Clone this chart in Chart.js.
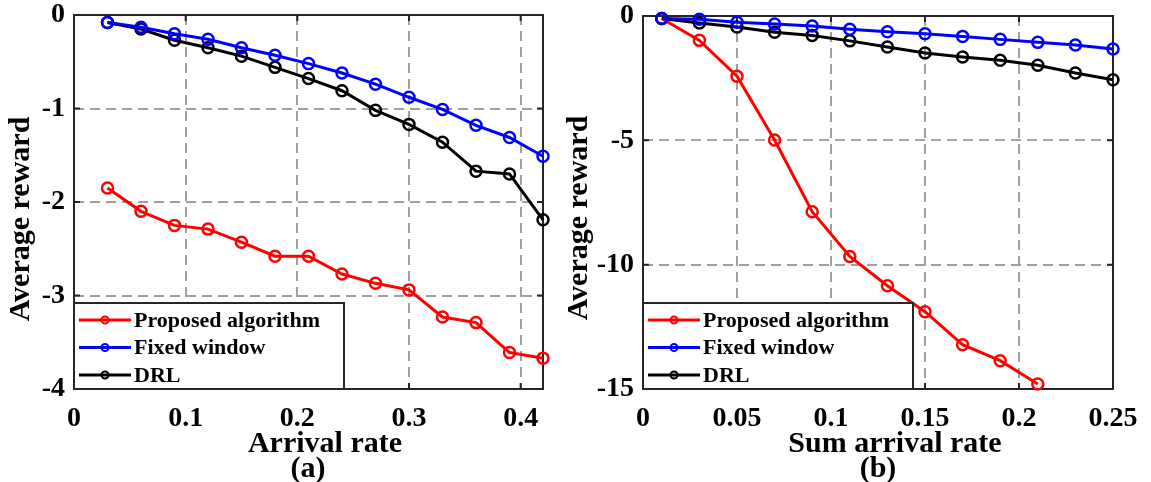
<!DOCTYPE html>
<html>
<head>
<meta charset="utf-8">
<script src="https://cdn.jsdelivr.net/npm/chart.js"></script>
<style>
  html, body { margin: 0; padding: 0; background: #fff; }
  #wrap { position: relative; width: 1151px; height: 482px; }
  #chartA { position: absolute; left: 0; top: 0; }
  #chartB { position: absolute; left: 560px; top: 0; }
</style>
</head>
<body>
<div id="wrap">
  <canvas id="chartA" width="560" height="482"></canvas>
  <canvas id="chartB" width="591" height="482"></canvas>
</div>
<script>
// Datos panel (a)
const arrivalRate = [0.03, 0.06, 0.09, 0.12, 0.15, 0.18, 0.21, 0.24, 0.27, 0.30, 0.33, 0.36, 0.39, 0.42];
const proposedA = [-1.85, -2.10, -2.25, -2.29, -2.43, -2.58, -2.58, -2.77, -2.87, -2.94, -3.23, -3.29, -3.61, -3.67];
const fixedA = [-0.08, -0.13, -0.20, -0.26, -0.35, -0.43, -0.52, -0.62, -0.74, -0.88, -1.01, -1.18, -1.31, -1.51];
const drlA = [-0.08, -0.15, -0.27, -0.35, -0.44, -0.56, -0.68, -0.81, -1.02, -1.17, -1.36, -1.67, -1.70, -2.19];
const xTicksA = [0, 0.1, 0.2, 0.3, 0.4];
const yTicksA = [0, -1, -2, -3, -4];

// Datos panel (b)
const sumArrivalRate = [0.01, 0.03, 0.05, 0.07, 0.09, 0.11, 0.13, 0.15, 0.17, 0.19, 0.21, 0.23, 0.25];
const proposedB = [-0.10, -0.98, -2.42, -4.99, -7.87, -9.67, -10.85, -11.89, -13.22, -13.86, -14.80];
const fixedB = [-0.10, -0.13, -0.25, -0.32, -0.40, -0.53, -0.63, -0.71, -0.82, -0.94, -1.06, -1.17, -1.33];
const drlB = [-0.10, -0.28, -0.44, -0.65, -0.78, -1.00, -1.25, -1.49, -1.65, -1.78, -1.98, -2.29, -2.56];
const xTicksB = [0, 0.05, 0.1, 0.15, 0.2, 0.25];
const yTicksB = [0, -5, -10, -15];

const seriesNames = ['Proposed algorithm', 'Fixed window', 'DRL'];
const seriesColors = ['#ff0000', '#0000ff', '#000000'];

const FONT = '"Liberation Serif", "Times New Roman", serif';
const GRID_COLOR = '#a0a0a0';
const AXIS_COLOR = '#262626';

// Caja de ejes con marcas hacia dentro
const boxPlugin = {
    id: 'cajaEjes',
    beforeDatasetsDraw(chart) {
        const {ctx, chartArea: a, scales} = chart;
        ctx.save();
        ctx.strokeStyle = AXIS_COLOR;
        ctx.lineWidth = 2;
        ctx.strokeRect(a.left, a.top, a.right - a.left, a.bottom - a.top);
        ctx.beginPath();
        scales.x.ticks.forEach(t => {
            const px = scales.x.getPixelForValue(t.value);
            ctx.moveTo(px, a.bottom); ctx.lineTo(px, a.bottom - 6);
            ctx.moveTo(px, a.top); ctx.lineTo(px, a.top + 6);
        });
        scales.y.ticks.forEach(t => {
            const py = scales.y.getPixelForValue(t.value);
            ctx.moveTo(a.left, py); ctx.lineTo(a.left + 6, py);
            ctx.moveTo(a.right, py); ctx.lineTo(a.right - 6, py);
        });
        ctx.stroke();
        ctx.restore();
    }
};

// Leyenda dentro del area, abajo a la izquierda
const legendPlugin = {
    id: 'cajaLeyenda',
    afterDatasetsDraw(chart, args, opts) {
        const {ctx, chartArea: a} = chart;
        const x0 = a.left, y0 = a.bottom - opts.height;
        ctx.save();
        ctx.fillStyle = '#fff';
        ctx.fillRect(x0, y0, opts.width, opts.height);
        ctx.strokeStyle = AXIS_COLOR;
        ctx.lineWidth = 2;
        ctx.strokeRect(x0, y0, opts.width, opts.height);
        chart.data.datasets.forEach((ds, i) => {
            const y = y0 + opts.rows[i];
            ctx.strokeStyle = ds.borderColor;
            ctx.lineWidth = 3;
            ctx.beginPath();
            ctx.moveTo(x0 + opts.lineFrom, y);
            ctx.lineTo(x0 + opts.lineTo, y);
            ctx.stroke();
            ctx.lineWidth = 2;
            ctx.beginPath();
            ctx.arc(x0 + (opts.lineFrom + opts.lineTo) / 2, y, 3.5, 0, Math.PI * 2);
            ctx.stroke();
            ctx.fillStyle = '#000';
            ctx.font = 'bold ' + opts.fontSize + 'px ' + FONT;
            ctx.textAlign = 'left';
            ctx.textBaseline = 'middle';
            ctx.fillText(ds.label, x0 + opts.textX, y + 1);
        });
        ctx.restore();
    }
};

// Titulos de ejes
const titlesPlugin = {
    id: 'titulos',
    afterDraw(chart, args, opts) {
        const ctx = chart.ctx;
        ctx.save();
        ctx.fillStyle = '#000';
        ctx.font = 'bold 30px ' + FONT;
        ctx.textAlign = 'center';
        opts.items.forEach(it => {
            ctx.save();
            ctx.translate(it.x, it.y);
            if (it.rotate) {
                ctx.rotate(-Math.PI / 2);
                ctx.textBaseline = 'middle';
            } else {
                ctx.textBaseline = 'alphabetic';
            }
            ctx.fillText(it.text, 0, 0);
            ctx.restore();
        });
        ctx.restore();
    }
};

const createDataset = (label, xs, ys, color, order) => ({
    label: label,
    data: ys.map((y, i) => ({x: xs[i], y: y})),
    borderColor: color,
    backgroundColor: color,
    borderWidth: 3,
    pointRadius: 5.5,
    pointBorderWidth: 2.5,
    pointBackgroundColor: 'rgba(0,0,0,0)',
    pointBorderColor: color,
    tension: 0,
    clip: false,
    order: order
});

function axisOptions(min, max, tickValues, geo, horizontal) {
    return {
        type: 'linear',
        min: min,
        max: max,
        afterBuildTicks: s => { s.ticks = tickValues.map(v => ({value: v})); },
        afterFit: s => {
            if (horizontal) {
                s.height = geo.xHeight;
            } else {
                s.width = geo.yWidth;
            }
            s.paddingLeft = 0; s.paddingRight = 0; s.paddingTop = 0; s.paddingBottom = 0;
        },
        grid: {
            color: c => (c.tick && (c.tick.value === min || c.tick.value === max)) ? 'rgba(0,0,0,0)' : GRID_COLOR,
            lineWidth: 2,
            drawTicks: false
        },
        border: {display: false, dash: [10, 6]},
        ticks: {
            color: '#000',
            font: {family: FONT, size: 28, weight: 'bold'},
            padding: horizontal ? geo.xPad : geo.yPad,
            autoSkip: false,
            maxRotation: 0,
            callback: v => String(v)
        }
    };
}

function createConfig(datasets, xMin, xMax, xTicks, yMin, yMax, yTicks, geo) {
    return {
        type: 'line',
        data: {datasets: datasets},
        options: {
            responsive: false,
            animation: false,
            layout: {padding: geo.padding},
            plugins: {
                legend: {display: false},
                tooltip: {enabled: false},
                cajaLeyenda: geo.legend,
                titulos: {items: geo.titles}
            },
            scales: {
                x: axisOptions(xMin, xMax, xTicks, geo, true),
                y: axisOptions(yMin, yMax, yTicks, geo, false)
            }
        },
        plugins: [boxPlugin, legendPlugin, titlesPlugin]
    };
}

const datasetsA = [
    createDataset(seriesNames[0], arrivalRate, proposedA, seriesColors[0], 2),
    createDataset(seriesNames[1], arrivalRate, fixedA, seriesColors[1], 0),
    createDataset(seriesNames[2], arrivalRate, drlA, seriesColors[2], 1)
];
const datasetsB = [
    createDataset(seriesNames[0], sumArrivalRate, proposedB, seriesColors[0], 2),
    createDataset(seriesNames[1], sumArrivalRate, fixedB, seriesColors[1], 0),
    createDataset(seriesNames[2], sumArrivalRate, drlB, seriesColors[2], 1)
];

const leyenda = {width: 270, height: 86, rows: [17, 44.5, 72], lineFrom: 5, lineTo: 57, textX: 60, fontSize: 22};

new Chart(document.getElementById('chartA'), createConfig(datasetsA, 0, 0.42, xTicksA, -4, 0, yTicksA, {
    padding: {left: 0, top: 15, right: 17, bottom: 0},
    yWidth: 74, xHeight: 93, xPad: 13, yPad: 9,
    legend: leyenda,
    titles: [
        {text: 'Average reward', x: 21, y: 219, rotate: true},
        {text: 'Arrival rate', x: 325, y: 452},
        {text: '(a)', x: 308, y: 477}
    ]
}));

new Chart(document.getElementById('chartB'), createConfig(datasetsB, 0, 0.25, xTicksB, -15, 0, yTicksB, {
    padding: {left: 0, top: 16, right: 38, bottom: 0},
    yWidth: 83, xHeight: 93, xPad: 13, yPad: 9,
    legend: leyenda,
    titles: [
        {text: 'Average reward', x: 19, y: 218, rotate: true},
        {text: 'Sum arrival rate', x: 335, y: 452},
        {text: '(b)', x: 318, y: 477}
    ]
}));
</script>
</body>
</html>
